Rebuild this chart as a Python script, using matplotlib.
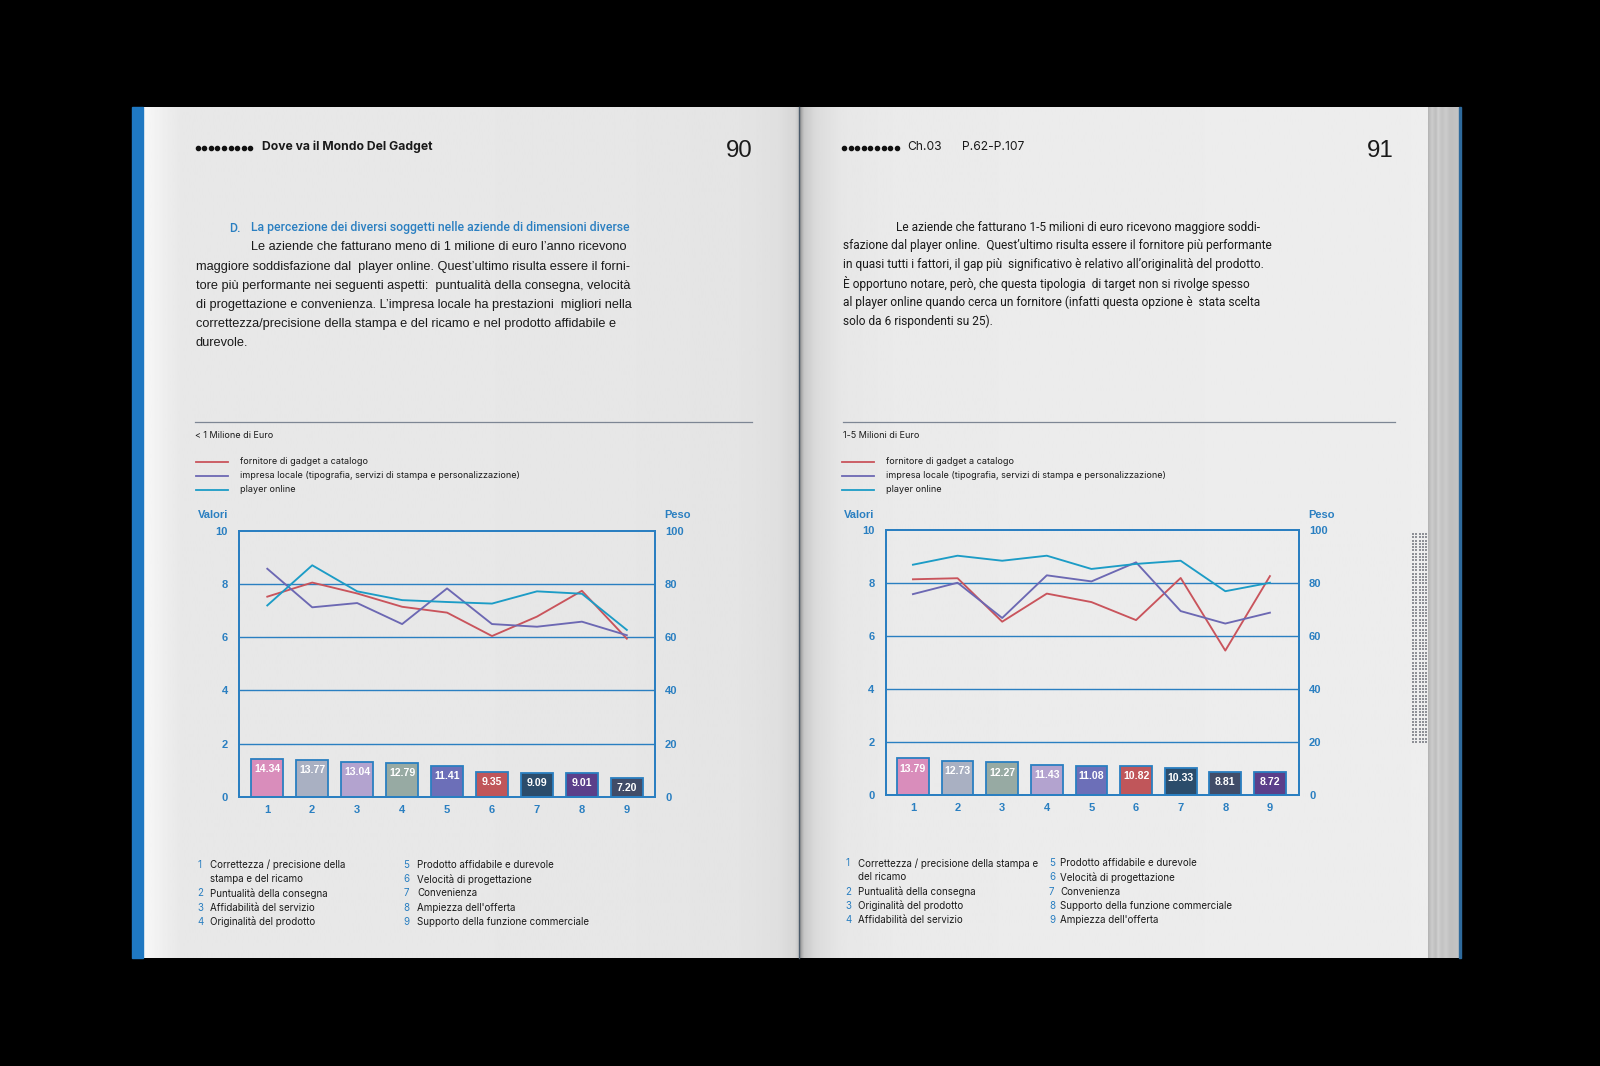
import matplotlib
matplotlib.use('Agg')
import matplotlib.pyplot as plt
import numpy as np
from matplotlib.patches import Rectangle

# ---------------- data ----------------
categories = [1, 2, 3, 4, 5, 6, 7, 8, 9]
series_names = ["fornitore di gadget a catalogo",
                "impresa locale (tipografia, servizi di stampa e personalizzazione)",
                "player online"]

left_red = [7.52, 8.05, 7.64, 7.14, 6.92, 6.04, 6.77, 7.74, 5.94]
left_purple = [8.57, 7.12, 7.28, 6.49, 7.83, 6.49, 6.39, 6.58, 6.07]
left_cyan = [7.19, 8.70, 7.72, 7.39, 7.32, 7.26, 7.72, 7.63, 6.27]
left_weights = [14.34, 13.77, 13.04, 12.79, 11.41, 9.35, 9.09, 9.01, 7.20]

right_red = [8.14, 8.18, 6.54, 7.60, 7.28, 6.60, 8.19, 5.45, 8.26]
right_purple = [7.58, 8.01, 6.68, 8.29, 8.06, 8.78, 6.94, 6.47, 6.88]
right_cyan = [8.69, 9.03, 8.84, 9.03, 8.53, 8.72, 8.84, 7.69, 8.01]
right_weights = [13.79, 12.73, 12.27, 11.43, 11.08, 10.82, 10.33, 8.81, 8.72]

left_y_ticks = [0, 2, 4, 6, 8, 10]
right_y_ticks = [0, 20, 40, 60, 80, 100]

left_factors = ["Correttezza / precisione della\nstampa e del ricamo",
                "Puntualità della consegna", "Affidabilità del servizio",
                "Originalità del prodotto", "Prodotto affidabile e durevole",
                "Velocità di progettazione", "Convenienza",
                "Ampiezza dell'offerta", "Supporto della funzione commerciale"]
right_factors = ["Correttezza / precisione della stampa e\ndel ricamo",
                 "Puntualità della consegna", "Originalità del prodotto",
                 "Affidabilità del servizio", "Prodotto affidabile e durevole",
                 "Velocità di progettazione", "Convenienza",
                 "Supporto della funzione commerciale", "Ampiezza dell'offerta"]

left_chart_title = "< 1 Milione di Euro"
right_chart_title = "1-5 Milioni di Euro"

left_heading = "La percezione dei diversi soggetti nelle aziende di dimensioni diverse"
left_body = [
    "Le aziende che fatturano meno di 1 milione di euro l’anno ricevono",
    "maggiore soddisfazione dal  player online. Quest’ultimo risulta essere il forni-",
    "tore più performante nei seguenti aspetti:  puntualità della consegna, velocità",
    "di progettazione e convenienza. L’impresa locale ha prestazioni  migliori nella",
    "correttezza/precisione della stampa e del ricamo e nel prodotto affidabile e",
    "durevole."]
right_body = [
    "Le aziende che fatturano 1-5 milioni di euro ricevono maggiore soddi-",
    "sfazione dal player online.  Quest’ultimo risulta essere il fornitore più performante",
    "in quasi tutti i fattori, il gap più  significativo è relativo all’originalità del prodotto.",
    "È opportuno notare, però, che questa tipologia  di target non si rivolge spesso",
    "al player online quando cerca un fornitore (infatti questa opzione è  stata scelta",
    "solo da 6 rispondenti su 25)."]

# ---------------- style ----------------
BLUE = '#2a7fc1'
RED = '#c9545c'
PURPLE = '#6c68b3'
CYAN = '#1c9cc6'
TXT = '#1a1a1a'
left_bar_colors = ['#d98dbb', '#a9b0c2', '#b3a3cf', '#97aaa3', '#6c6fb8',
                   '#c0565a', '#2b4c6b', '#5b3f8a', '#414c68']
right_bar_colors = ['#d98dbb', '#a9b0c2', '#97aaa3', '#b3a3cf', '#6c6fb8',
                    '#c0565a', '#2b4c6b', '#414c68', '#5b3f8a']
FONT = 'Liberation Sans'
FONT2 = 'Inter'
FONT3 = 'Roboto'

W, H = 1600, 1066
fig = plt.figure(figsize=(16, 10.66), dpi=100)
fig.patch.set_facecolor('black')
bg = fig.add_axes([0, 0, 1, 1])
bg.set_xlim(0, W)
bg.set_ylim(H, 0)
bg.axis('off')
renderer = fig.canvas.get_renderer()


def fit(s, target, family, weight='normal', base=10.0):
    t = fig.text(0, 0, s, fontsize=base, family=family, weight=weight)
    w = t.get_window_extent(renderer=renderer).width
    t.remove()
    return base * target / w


# ---------------- pages ----------------
PT, PB = 107, 958


def gradient(x0, x1, xs, vs):
    xx = np.linspace(x0, x1, 400)
    vals = np.interp(xx, xs, vs)
    bg.imshow(vals[None, :], extent=[x0, x1, PB, PT], cmap='gray', vmin=0, vmax=1,
              aspect='auto', interpolation='bilinear', zorder=1)


gradient(143, 799, [143, 150, 166, 180, 600, 740, 780, 796, 799],
         [0.97, 0.96, 0.93, 0.91, 0.905, 0.895, 0.875, 0.84, 0.78])
gradient(799, 1428, [799, 803, 815, 840, 900, 1428],
         [0.55, 0.78, 0.86, 0.905, 0.92, 0.93])
bg.add_patch(Rectangle((132, PT), 11, PB - PT, color='#1f78c2', zorder=2))
bg.plot([799, 799], [PT, PB], color='#4a5a6a', lw=1.0, zorder=3)
# page stack at right edge
gradient(1428, 1459, [1428, 1432, 1436, 1438, 1442, 1446, 1450, 1459],
         [0.70, 0.80, 0.74, 0.82, 0.76, 0.80, 0.75, 0.77])
bg.add_patch(Rectangle((1459, PT), 2.2, PB - PT, color='#2e6a9c', zorder=3))
# dotted strip
gx, gy = np.meshgrid(np.arange(1413, 1428, 3.3), np.arange(534, 744, 3.3))
bg.scatter(gx.ravel(), gy.ravel(), s=1.6, marker='s', color='#8e9096',
           linewidths=0, zorder=3)

# ---------------- headers ----------------
for x0 in (197.5, 844):
    bg.scatter(x0 + np.arange(9) * 6.6, [148] * 9, s=9, color='#111111', zorder=4)
fs_head = fit("Dove va il Mondo Del Gadget", 170, FONT2, 'bold')
bg.text(262, 147, "Dove va il Mondo Del Gadget", fontsize=fs_head, family=FONT2,
        weight='bold', color=TXT, va='center', zorder=5)
fs_ch = fit("P.62-P.107", 62.5, FONT2)
bg.text(907, 147, "Ch.03", fontsize=fs_ch, family=FONT2, color=TXT, va='center', zorder=5)
bg.text(962, 147, "P.62-P.107", fontsize=fs_ch, family=FONT2, color=TXT, va='center', zorder=5)
fs_num = fit("90", 26.5, FONT)
bg.text(753, 151, "90", fontsize=fs_num, family=FONT, color=TXT, ha='right',
        va='center', zorder=5)
bg.text(1394, 151, "91", fontsize=fs_num, family=FONT, color=TXT, ha='right',
        va='center', zorder=5)

# ---------------- body text ----------------
fs_title = fit(left_heading, 380, FONT3, 'medium')
bg.text(229, 228, "D.", fontsize=fs_title, family=FONT3, weight='medium', color=BLUE,
        va='center', zorder=5)
bg.text(251, 228, left_heading, fontsize=fs_title, family=FONT3, weight='medium',
        color=BLUE, va='center', zorder=5)
fs_lb = fit(left_body[1], 436, FONT)
for i, line in enumerate(left_body):
    bg.text(251 if i == 0 else 196, 247.5 + i * 19.1, line, fontsize=fs_lb, family=FONT,
            color=TXT, va='center', zorder=5)
fs_rb = fit(right_body[1], 431, FONT3)
for i, line in enumerate(right_body):
    bg.text(896 if i == 0 else 843, 227 + i * 18.8, line, fontsize=fs_rb, family=FONT3,
            color=TXT, va='center', zorder=5)

# ---------------- chart frames ----------------
fs_leg = fit(series_names[1], 279, FONT2)
fs_list = fit("Supporto della funzione commerciale", 173, FONT2)
fs_ct = fit(left_chart_title, 78, FONT2)
TICK_FS = 8.0


def chart_block(px, title, red, purple, cyan, weights, bar_colors, rule, factors,
                list_x, list_y, leg_x, xlim, xlab_pad):
    # rule and title
    bg.plot(rule, [421.5, 421.5], color='#7d8694', lw=0.9, zorder=4)
    bg.text(rule[0], 435, title, fontsize=fs_ct, family=FONT2, color=TXT,
            va='center', zorder=5)
    # legend
    for k, (name, col) in enumerate(zip(series_names, [RED, PURPLE, CYAN])):
        yy = 461.5 + k * 14.2
        bg.plot([leg_x, leg_x + 32], [yy, yy], color=col, lw=1.3, zorder=5)
        bg.text(leg_x + 44, yy, name, fontsize=fs_leg, family=FONT2, color=TXT,
                va='center', zorder=5)
    # axes
    x0, y0, x1, y1 = px
    ax = fig.add_axes([x0 / W, 1 - y1 / H, (x1 - x0) / W, (y1 - y0) / H])
    ax.set_facecolor('none')
    ax.set_zorder(6)
    ax2 = ax.twinx()
    ax2.bar(categories, weights, width=0.71, color=bar_colors, edgecolor=BLUE,
            linewidth=1.3, zorder=2)
    for c, w in zip(categories, weights):
        ax2.text(c, w - 3.8, f"{w:.2f}", ha='center', va='center', color='white',
                 fontsize=7.6, family=FONT, weight='bold', zorder=3)
    ax2.set_ylim(0, 100)
    ax.set_ylim(0, 10)
    ax.set_xlim(*xlim)
    for g in left_y_ticks[1:-1]:
        ax.axhline(g, color=BLUE, lw=1.0, zorder=1)
    for a in (ax, ax2):
        for sp in a.spines.values():
            sp.set_color(BLUE)
            sp.set_linewidth(1.3)
    ax.plot(categories, red, color=RED, lw=1.35, zorder=4)
    ax.plot(categories, purple, color=PURPLE, lw=1.35, zorder=4)
    ax.plot(categories, cyan, color=CYAN, lw=1.35, zorder=4)
    ax.set_yticks(left_y_ticks)
    ax2.set_yticks(right_y_ticks)
    ax.set_xticks(categories)
    ax.tick_params(axis='y', length=0, pad=8, labelcolor=BLUE)
    ax2.tick_params(axis='y', length=0, pad=7.5, labelcolor=BLUE)
    ax.tick_params(axis='x', length=0, pad=xlab_pad, labelcolor=BLUE)
    for lab in ax.get_yticklabels() + ax2.get_yticklabels() + ax.get_xticklabels():
        lab.set_fontfamily(FONT)
        lab.set_fontweight('bold')
        lab.set_fontsize(TICK_FS)
    bg.text(x0 - 11, 515.5, "Valori", fontsize=TICK_FS, family=FONT, weight='bold',
            color=BLUE, ha='right', va='center', zorder=5)
    bg.text(x1 + 10, 515.5, "Peso", fontsize=TICK_FS, family=FONT, weight='bold',
            color=BLUE, ha='left', va='center', zorder=5)
    # factor list
    nx1, tx1, nx2, tx2 = list_x
    rows = []
    for i, f in enumerate(factors):
        parts = f.split("\n")
        rows.append((str(categories[i]), parts[0]))
        for p in parts[1:]:
            rows.append(("", p))
    col1, col2 = rows[:5], rows[5:]
    for col, nx, tx in ((col1, nx1, tx1), (col2, nx2, tx2)):
        for r, (n, t) in enumerate(col):
            yy = list_y + r * 14.2
            if n:
                bg.text(nx, yy, n, fontsize=fs_list, family=FONT2, color=BLUE,
                        va='center', zorder=5)
            bg.text(tx, yy, t, fontsize=fs_list, family=FONT2, color=TXT,
                    va='center', zorder=5)


chart_block((239.2, 530.7, 654.7, 796.7), left_chart_title, left_red, left_purple,
            left_cyan, left_weights, left_bar_colors, [195, 752], left_factors,
            (197, 209.5, 403.5, 417), 865, 195.5, (0.375, 9.62), 6.0)
chart_block((885.5, 530.0, 1298.7, 795.0), right_chart_title, right_red, right_purple,
            right_cyan, right_weights, right_bar_colors, [843, 1395], right_factors,
            (845, 857.5, 1049, 1060), 863.3, 842, (0.385, 9.645), 5.5)

fig.savefig('out.png', dpi=100, facecolor='black')
